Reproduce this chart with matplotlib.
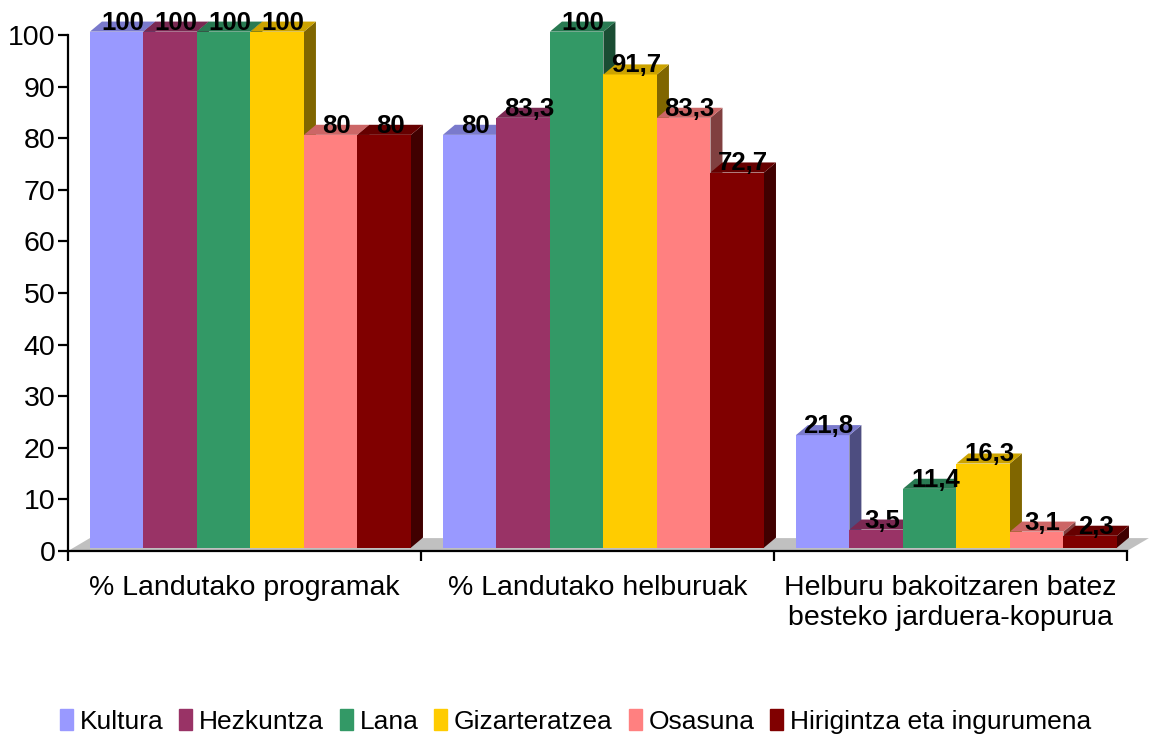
import numpy as np
import matplotlib.pyplot as plt
from matplotlib.patches import Polygon

plt.rcParams["font.family"] = ["Liberation Sans", "DejaVu Sans"]

# datuak
categories = ["% Landutako programak", "% Landutako helburuak",
              "Helburu bakoitzaren batez\nbesteko jarduera-kopurua"]
series = ["Kultura", "Hezkuntza", "Lana", "Gizarteratzea", "Osasuna",
          "Hirigintza eta ingurumena"]
kultura = [100, 80, 21.8]
hezkuntza = [100, 83.3, 3.5]
lana = [100, 100, 11.4]
gizarteratzea = [100, 91.7, 16.3]
osasuna = [80, 83.3, 3.1]
hirigintza = [80, 72.7, 2.3]
colors = ["#9999FF", "#993366", "#339966", "#FFCC00", "#FF8080", "#800000"]
yticks = list(range(0, 101, 10))

data = [kultura, hezkuntza, lana, gizarteratzea, osasuna, hirigintza]


def shade(c, f):
    r, g, b = plt.matplotlib.colors.to_rgb(c)
    return (r * f, g * f, b * f)


def fmt(v):
    s = f"{v:g}"
    return s.replace(".", ",")


fig = plt.figure(figsize=(11.51, 7.40), dpi=100)
ax = fig.add_axes([68 / 1151, 189 / 740, 1059 / 1151, 516 / 740])
ax.set_xlim(0, 3)
ax.set_ylim(0, 100)

# 3D itxura: sakonera datu-unitateetan
W = 0.1516      # barraren zabalera
X0 = 0.062      # taldearen hasiera
DX, DY = 0.034, 1.95   # barraren sakonera
BASE = 0.65     # barrak zorutik gora
FX, FY = 0.062, 2.5    # zorua

floor = Polygon([(0, 0), (3, 0), (3 + FX, FY), (FX, FY)], closed=True,
                facecolor="#c0c0c0", edgecolor="none", zorder=1, clip_on=False)
ax.add_patch(floor)

for i, (vals, c) in enumerate(zip(data, colors)):
    z = 2 + i * 0.1
    for g, v in enumerate(vals):
        x = g + X0 + i * W
        top = BASE + v
        front = Polygon([(x, BASE), (x + W, BASE), (x + W, top), (x, top)],
                        facecolor=c, edgecolor="none", zorder=z, clip_on=False)
        topf = Polygon([(x, top), (x + W, top), (x + W + DX, top + DY), (x + DX, top + DY)],
                       facecolor=shade(c, 0.8), edgecolor="none", zorder=z, clip_on=False)
        side = Polygon([(x + W, BASE), (x + W + DX, BASE + DY), (x + W + DX, top + DY), (x + W, top)],
                       facecolor=shade(c, 0.5), edgecolor="none", zorder=z, clip_on=False)
        ax.add_patch(side)
        ax.add_patch(front)
        ax.add_patch(topf)
        ax.text(x + W / 2 + DX / 2, top + 0.4, fmt(v), ha="center", va="baseline",
                fontsize=18.5, fontweight="bold", zorder=10, clip_on=False)

for s in ["top", "right"]:
    ax.spines[s].set_visible(False)
for s in ["left", "bottom"]:
    ax.spines[s].set_linewidth(1.6)
    ax.spines[s].set_zorder(5)

ax.set_yticks(yticks)
ax.tick_params(axis="y", direction="out", length=7, width=1.6, labelsize=20.5, pad=2)
ax.set_xticks([0, 1, 2, 3])
ax.set_xticklabels([])
ax.tick_params(axis="x", which="major", direction="out", length=7, width=1.6)
ax.set_xticks([0.5, 1.5, 2.5], minor=True)
ax.set_xticklabels(categories, minor=True, fontsize=20.5, linespacing=1.2)
ax.tick_params(axis="x", which="minor", length=0, pad=17)

handles = [plt.Rectangle((0, 0), 1, 1, color=c) for c in colors]
fig.legend(handles, series, loc="center", bbox_to_anchor=(0.5, 0.025), ncol=6,
           frameon=False, fontsize=19, handlelength=0.5, handleheight=0.8,
           handletextpad=0.25, columnspacing=0.6)

fig.savefig("out.png", dpi=100)
